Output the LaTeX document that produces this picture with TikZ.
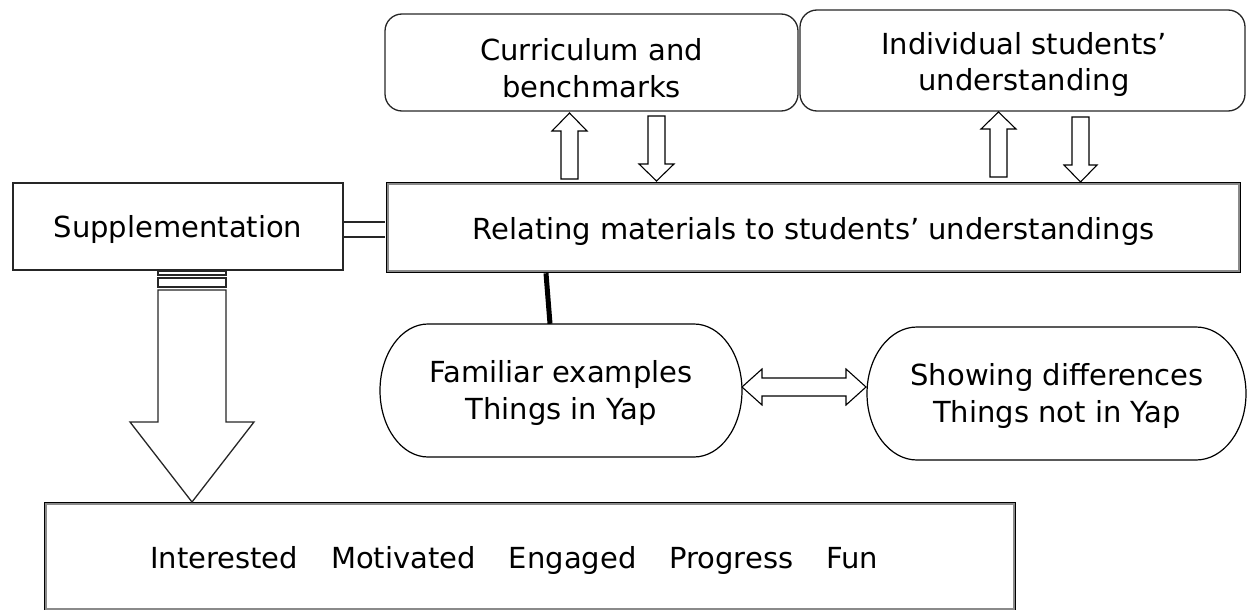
\documentclass[tikz,border=0pt]{standalone}
\usepackage{fontspec}
\setmainfont{DejaVu Sans}
\usetikzlibrary{calc}
\definecolor{edge}{HTML}{262626}
\definecolor{innergray}{HTML}{8A8A8A}
\begin{document}
\begin{tikzpicture}[x=1pt,y=-1pt,
  every node/.style={inner sep=0pt},
  label/.style={font=\fontsize{29pt}{35pt}\selectfont, anchor=base},
  plainbox/.style={draw=edge, line width=1.3pt, rectangle},
  roundbox/.style={draw=edge, line width=1.3pt, rectangle, rounded corners=17pt},
  framebox/.style={draw=black, line width=2.5pt, rectangle},
  ghost/.style={rectangle},
  arrowline/.style={draw=black, line width=1.1pt, fill=white, line join=miter},
  heavyline/.style={line width=5pt, black},
  doubleline/.style={draw=edge, line width=1.3pt, double=white, double distance=13.5pt}
]
\useasboundingbox (0,0) rectangle (1248,610);

% ---------- top row ----------
\node[roundbox, minimum width=413pt, minimum height=97pt] (cur) at (591.5,62.5) {};
\node[label] (cur1) at (591.5,60) {Curriculum and};
\node[label] (cur2) at (591.5,97) {benchmarks};

\node[roundbox, minimum width=445pt, minimum height=101pt] (ind) at (1022.5,60.5) {};
\node[label] (ind1) at (1024,55) {Individual students’};
\node[label] (ind2) at (1024,90) {understanding};

% ---------- middle row ----------
\node[plainbox, minimum width=330pt, minimum height=87pt] (supp) at (178,226.5) {};
\node[label] (supptext) at (178,237) {Supplementation};

\node[framebox, minimum width=853pt, minimum height=89pt] (rel) at (813.5,227.5) {};
\draw[innergray, line width=2pt]
  ([shift={(2.25,2.25)}]rel.north west) rectangle ([shift={(-2.25,-2.25)}]rel.south east);
\node[label] (reltext) at (813.5,239.5) {Relating materials to students’ understandings};

% ---------- lower row: rounded terminals ----------
\node[ghost, minimum width=362pt, minimum height=133pt] (fam) at (561,390.5) {};
\draw[draw=black, line width=1.2pt]
  (428,324) -- (694,324) .. controls (720.5,324) and (742,353.8) .. (742,390.5)
  .. controls (742,427.2) and (720.5,457) .. (694,457) -- (428,457)
  .. controls (401.5,457) and (380,427.2) .. (380,390.5)
  .. controls (380,353.8) and (401.5,324) .. (428,324) -- cycle;
\node[label] (fam1) at (561,382.5) {Familiar examples};
\node[label] (fam2) at (561,419.5) {Things in Yap};

\node[ghost, minimum width=379pt, minimum height=133pt] (show) at (1056.5,393.5) {};
\draw[draw=black, line width=1.2pt]
  (917,327) -- (1196,327) .. controls (1223.6,327) and (1246,356.8) .. (1246,393.5)
  .. controls (1246,430.2) and (1223.6,460) .. (1196,460) -- (917,460)
  .. controls (889.4,460) and (867,430.2) .. (867,393.5)
  .. controls (867,356.8) and (889.4,327) .. (917,327) -- cycle;
\node[label] (show1) at (1057,385.5) {Showing differences};
\node[label] (show2) at (1057,422.5) {Things not in Yap};

% ---------- outcome box ----------
\node[framebox, minimum width=970pt, minimum height=107pt] (out) at (530,556.5) {};
\draw[innergray, line width=2pt]
  ([shift={(2.25,2.25)}]out.north west) rectangle ([shift={(-2.25,-2.25)}]out.south east);
\node[label, anchor=base west] (outtext) at (150,568)
  {Interested\hspace{33pt}Motivated\hspace{33pt}Engaged\hspace{33pt}Progress\hspace{33pt}Fun};

% ---------- connectors ----------
% double bar joining the supplementation box to the central box
\draw[doubleline, shorten <=0.65pt, shorten >=1.25pt]
  ([yshift=-3pt]supp.east) -- ([yshift=-3pt]supp.east -| rel.west);

% heavy link from the central box down to the familiar-examples terminal
\draw[heavyline] ($(rel.south)+(-267.5,0)$) -- ($(fam.north)+(-11,0)$);

% block arrows between the central box and the two upper boxes
\path[arrowline] (561,179) -- (561,131) -- (552,131) -- (569.5,113) -- (587,131) -- (578,131) -- (578,179) -- cycle;
\path[arrowline] (648,116) -- (648,164) -- (639,164) -- (656.5,181) -- (674,164) -- (665,164) -- (665,116) -- cycle;
\path[arrowline] (990,177) -- (990,129) -- (981,129) -- (998.5,112) -- (1016,129) -- (1007,129) -- (1007,177) -- cycle;
\path[arrowline] (1072,117) -- (1072,165) -- (1064,165) -- (1080.5,182) -- (1097,165) -- (1089,165) -- (1089,117) -- cycle;

% two-headed block arrow between the terminals
\path[arrowline] (742,387) -- (762,369) -- (762,378) -- (846,378) -- (846,369) -- (866,387)
  -- (846,405) -- (846,396) -- (762,396) -- (762,405) -- cycle;

% striped block arrow from supplementation down to the outcome box
\path[arrowline, draw=edge, line width=1.3pt] (158,271) rectangle (226,275);
\path[arrowline, draw=edge, line width=1.3pt] (158,278) rectangle (226,287);
\path[arrowline, draw=edge, line width=1.3pt] (158,290) -- (158,422) -- (130,422) -- (192,502)
  -- (254,422) -- (226,422) -- (226,290) -- cycle;
\end{tikzpicture}
\end{document}
